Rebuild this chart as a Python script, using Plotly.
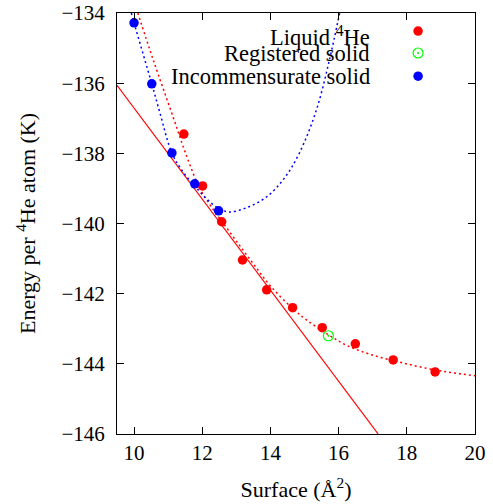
import plotly.graph_objects as go

# ---- data ----
liquid_x = [11.46, 12.01, 12.57, 13.18, 13.89, 14.65, 15.52, 16.49, 17.60, 18.83]
liquid_y = [-137.45, -138.93, -139.95, -141.04, -141.89, -142.40, -142.97, -143.43, -143.89, -144.23]

registered_x = [15.70]
registered_y = [-143.20]

incomm_x = [10.0, 10.52, 11.11, 11.78, 12.48]
incomm_y = [-134.28, -136.02, -137.99, -138.87, -139.64]

# fitted curves (sampled along the dotted lines of the picture)
liquid_fit_x = [10.11, 10.55, 11.14, 11.55, 11.93, 12.31, 12.57, 13.0, 13.5, 14.0, 14.65,
                15.06, 15.7, 16.23, 16.96, 17.86, 18.8, 19.32, 20.0]
liquid_fit_y = [-134.0, -135.3, -136.95, -138.1, -139.0, -139.58, -139.93, -140.5, -141.15,
                -141.78, -142.42, -142.75, -143.17, -143.47, -143.74, -143.97, -144.17,
                -144.25, -144.34]

incomm_fit_x = [9.92, 10.0, 10.52, 10.76, 11.11, 11.43, 11.78, 12.13, 12.48, 12.8, 13.3,
                13.89, 14.4, 14.85, 15.35, 15.73, 16.03]
incomm_fit_y = [-134.0, -134.28, -136.02, -136.85, -137.99, -138.52, -138.93, -139.30,
                -139.57, -139.67, -139.55, -139.24, -138.72, -137.99, -136.76, -135.34, -134.0]

# common tangent (solid red line)
tangent_x = [9.5, 17.16]
tangent_y = [-136.06, -146.0]

x_ticks = [10, 12, 14, 16, 18, 20]
y_ticks = [-146, -144, -142, -140, -138, -136, -134]

legend_labels = ["Liquid <sup>4</sup>He", "Registered solid", "Incommensurate solid"]
legend_marker_y = [0.957, 0.905, 0.850]
legend_text_y = [0.946, 0.903, 0.850]

RED = "#ff0000"
BLUE = "#0000ff"
GREEN = "#00ff00"
FONT = "Liberation Serif, Times New Roman, Times, DejaVu Serif, serif"

fig = go.Figure()

fig.add_trace(go.Scatter(x=tangent_x, y=tangent_y, mode="lines",
                         line=dict(color=RED, width=1.2), showlegend=False))
fig.add_trace(go.Scatter(x=liquid_fit_x, y=liquid_fit_y, mode="lines",
                         line=dict(color=RED, width=1.5, dash="2px,3px", shape="spline"),
                         showlegend=False))
fig.add_trace(go.Scatter(x=incomm_fit_x, y=incomm_fit_y, mode="lines",
                         line=dict(color=BLUE, width=1.5, dash="2px,3px", shape="spline"),
                         showlegend=False))
fig.add_trace(go.Scatter(x=liquid_x, y=liquid_y, mode="markers",
                         marker=dict(color=RED, size=9.5), showlegend=False))
fig.add_trace(go.Scatter(x=registered_x, y=registered_y, mode="markers",
                         marker=dict(color=GREEN, size=10, symbol="circle-open-dot",
                                     line=dict(width=1.2, color=GREEN)),
                         showlegend=False))
fig.add_trace(go.Scatter(x=incomm_x, y=incomm_y, mode="markers",
                         marker=dict(color=BLUE, size=9.5), showlegend=False))

# legend glyphs on an overlay unit axis
leg_x = 0.841
fig.add_trace(go.Scatter(x=[leg_x], y=[legend_marker_y[0]], xaxis="x2", yaxis="y2", mode="markers",
                         marker=dict(color=RED, size=9.5), showlegend=False, cliponaxis=False))
fig.add_trace(go.Scatter(x=[leg_x], y=[legend_marker_y[1]], xaxis="x2", yaxis="y2", mode="markers",
                         marker=dict(color=GREEN, size=10, symbol="circle-open-dot",
                                     line=dict(width=1.2, color=GREEN)),
                         showlegend=False, cliponaxis=False))
fig.add_trace(go.Scatter(x=[leg_x], y=[legend_marker_y[2]], xaxis="x2", yaxis="y2", mode="markers",
                         marker=dict(color=BLUE, size=9.5), showlegend=False, cliponaxis=False))

for lab, ly in zip(legend_labels, legend_text_y):
    fig.add_annotation(x=0.712, y=ly, xref="paper", yref="paper", text=lab,
                       showarrow=False, xanchor="right", yanchor="middle",
                       font=dict(family=FONT, size=22.5, color="black"))

axis_common = dict(showgrid=False, zeroline=False, showline=True, linecolor="black",
                   linewidth=1, mirror="ticks", ticks="inside", ticklen=7,
                   tickcolor="black", tickwidth=1, automargin=False,
                   tickfont=dict(family=FONT, size=21, color="black"))

fig.update_layout(
    width=493, height=504,
    margin=dict(l=117, r=18, t=13, b=70),
    paper_bgcolor="white", plot_bgcolor="white",
    font=dict(family=FONT, color="black"),
    xaxis=dict(range=[9.5, 20], tickvals=x_ticks,
               title=dict(text="Surface (Å<sup>2</sup>)", standoff=17,
                          font=dict(family=FONT, size=22, color="black")),
               **axis_common),
    yaxis=dict(range=[-146, -134], tickvals=y_ticks, ticklabelstandoff=7,
               title=dict(text="Energy per <sup>4</sup>He atom (K)", standoff=19,
                          font=dict(family=FONT, size=22, color="black")),
               **axis_common),
    xaxis2=dict(range=[0, 1], overlaying="x", visible=False, fixedrange=True),
    yaxis2=dict(range=[0, 1], overlaying="y", visible=False, fixedrange=True),
    showlegend=False,
)

fig.write_html("out.html")
